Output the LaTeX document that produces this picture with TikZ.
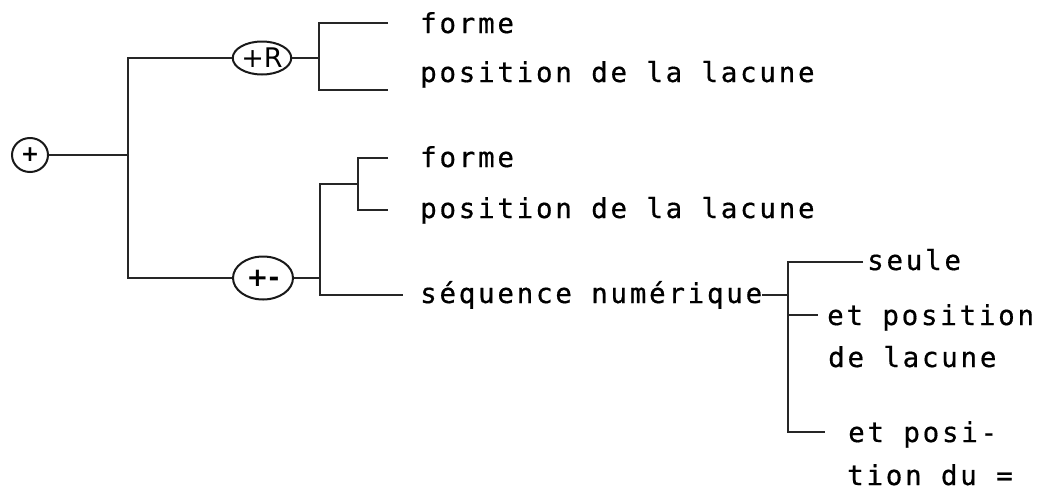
\documentclass[tikz,border=0pt]{standalone}
\usepackage{fontspec}
\usetikzlibrary{shapes.geometric}
\newfontfamily\typew[LetterSpace=10,FakeBold=0.6]{DejaVu Sans Mono}
\newfontfamily\hand{DejaVu Sans}

\begin{document}
\begin{tikzpicture}[x=1pt,y=-1pt,
  wire/.style={line width=1.7pt, draw=black!85},
  bubble/.style={ellipse, draw=black!90, line width=2pt, inner sep=0pt},
  txt/.style={anchor=base west, inner sep=0pt,
              font=\typew\fontsize{27.5}{30}\selectfont}
]
\useasboundingbox (0,0) rectangle (1048,496);

% circled markers
\node[bubble, minimum width=36, minimum height=34,
      font=\hand\bfseries\fontsize{22}{22}\selectfont] (root) at (30,155) {+};
\node[bubble, minimum width=47, minimum height=33,
      font=\hand\fontsize{27}{27}\selectfont] (R) at (262,58) {+R};
\node[bubble, minimum width=60, minimum height=43,
      font=\hand\bfseries\fontsize{26}{26}\selectfont] (PM) at (263,278) {+-};

% typed labels
\node[txt] (forme1) at (420,33) {forme};
\node[txt] (pos1) at (420,82) {position de la lacune};
\node[txt] (forme2) at (420,167) {forme};
\node[txt] (pos2) at (420,218) {position de la lacune};
\node[txt] (seq) at (420,303) {séquence numérique};
\node[txt] (seule) at (867,270) {seule};
\node[txt] (etp) at (827,325) {et position};
\node[txt] (dl) at (828,367) {de lacune};
\node[txt] (etposi) at (848,442) {et posi-};
\node[txt] (tiondu) at (847,485) {tion du =};

% first split
\coordinate (j1) at (128,155);
\draw[wire] (root.east) -- (j1);
\draw[wire] (R.west) -| (j1) |- (PM.west);

% +R bracket
\coordinate (j2) at (319,58);
\coordinate (e1) at (388,23);
\coordinate (e2) at (388,90);
\draw[wire] (R.east) -- (j2);
\draw[wire] (e1) -| (j2) |- (e2);

% +- bracket
\coordinate (j3) at (320,278);
\coordinate (j4) at (358,184);
\coordinate (e3) at (388,158);
\coordinate (e4) at (388,210);
\coordinate (e5) at (403,295);
\draw[wire] (PM.east) -- (j3);
\draw[wire] (j4) -| (j3) |- (e5);
\draw[wire] (e3) -| (j4) |- (e4);

% numeric sequence bracket
\coordinate (j5) at (788,295);
\coordinate (e6) at (863,262);
\coordinate (e7) at (818,315);
\coordinate (e8) at (825,432);
\draw[wire] (seq.east |- j5) -- (j5);
\draw[wire] (e6) -| (j5) |- (e8);
\draw[wire] (j5 |- e7) -- (e7);
\end{tikzpicture}
\end{document}
